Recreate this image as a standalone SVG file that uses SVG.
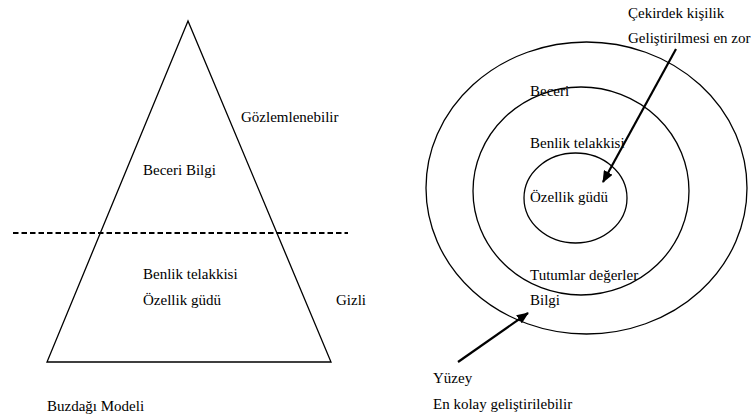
<svg xmlns="http://www.w3.org/2000/svg" width="753" height="418" viewBox="0 0 753 418">
<style>
text{font-family:"Liberation Serif","Times New Roman",serif;font-size:15px;fill:#000}
.s{fill:none;stroke:#000;stroke-width:1.3}
.a{fill:none;stroke:#000;stroke-width:2.2}
</style>
<defs>
<marker id="ah" markerWidth="12" markerHeight="10" refX="11" refY="5" orient="auto" markerUnits="userSpaceOnUse">
<path d="M0,0 L12,5 L0,10 Z" fill="#000"/>
</marker>
</defs>
<rect width="753" height="418" fill="#fff"/>
<g id="iceberg">
<polygon class="s" points="188,21 47,362 331,362"/>
<line x1="13" y1="233" x2="348" y2="233" stroke="#000" stroke-width="2" stroke-dasharray="5.5,3"/>
</g>
<g id="iceberg-labels">
<text x="241" y="122">Gözlemlenebilir</text>
<text x="143" y="175">Beceri Bilgi</text>
<text x="143" y="279">Benlik telakkisi</text>
<text x="143" y="305">Özellik güdü</text>
<text x="336" y="305">Gizli</text>
<text x="47" y="411">Buzdağı Modeli</text>
</g>
<g id="outer-ring"><ellipse class="s" cx="586.5" cy="188" rx="160.5" ry="146"/></g>
<g id="middle-ring"><ellipse class="s" cx="581" cy="191" rx="108" ry="104"/></g>
<g id="inner-ring"><ellipse class="s" cx="575.5" cy="198" rx="51.5" ry="45"/></g>
<g id="ring-labels">
<text x="628" y="18">Çekirdek kişilik</text>
<text x="628" y="43">Geliştirilmesi en zor</text>
<text x="530" y="96">Beceri</text>
<text x="530" y="148">Benlik telakkisi</text>
<text x="530" y="202">Özellik güdü</text>
<text x="530" y="280">Tutumlar değerler</text>
<text x="530" y="305">Bilgi</text>
<text x="433" y="383">Yüzey</text>
<text x="433" y="409">En kolay geliştirilebilir</text>
</g>
<g id="connectors">
<line class="a" x1="676" y1="49" x2="603" y2="182" marker-end="url(#ah)"/>
<line class="a" x1="458" y1="362" x2="528" y2="313" marker-end="url(#ah)"/>
</g>
</svg>
